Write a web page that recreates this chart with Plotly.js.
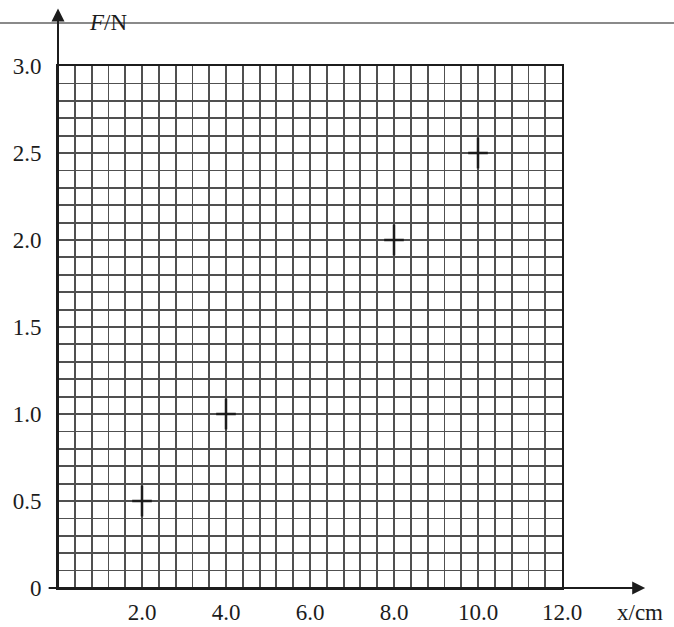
<!DOCTYPE html>
<html>
<head>
<meta charset="utf-8">
<script src="https://cdn.plot.ly/plotly-3.0.1.min.js"></script>
<style>html,body{margin:0;padding:0;background:#fff;}#chart{width:674px;height:627px;}</style>
</head>
<body>
<div id="chart"></div>
<script>
// measured data points (x in cm, F in N)
const xData = [2.0, 4.0, 8.0, 10.0];
const fData = [0.5, 1.0, 2.0, 2.5];

// tick labels
const xTickVals = [2, 4, 6, 8, 10, 12];
const xTickText = ["2.0", "4.0", "6.0", "8.0", "10.0", "12.0"];
const yTickVals = [0, 0.5, 1.0, 1.5, 2.0, 2.5, 3.0];
const yTickText = ["0", "0.5", "1.0", "1.5", "2.0", "2.5", "3.0"];

const gridColor = '#505050';
const ink = '#1c1c1c';
const serif = 'Liberation Serif, Times New Roman, serif';

const traces = [
  {x: xData, y: fData, mode: 'markers', type: 'scatter', hoverinfo: 'skip',
   marker: {symbol: 'line-ns-open', size: 22, color: ink, line: {color: ink, width: 2.5}}},
  {x: xData, y: fData, mode: 'markers', type: 'scatter', hoverinfo: 'skip',
   marker: {symbol: 'line-ew-open', size: 14, color: ink, line: {color: ink, width: 2.5}}}
];

const layout = {
  width: 674, height: 627,
  margin: {l: 58, r: 112, t: 66, b: 39},
  paper_bgcolor: '#fff', plot_bgcolor: '#fff',
  showlegend: false,
  font: {family: serif, color: ink, size: 23},
  xaxis: {
    range: [0, 12], tickmode: 'array', tickvals: xTickVals, ticktext: xTickText,
    showgrid: true, gridcolor: gridColor, gridwidth: 1.8,
    minor: {tickmode: 'linear', tick0: 0, dtick: 0.4, showgrid: true, gridcolor: gridColor, gridwidth: 1.8},
    showline: true, mirror: true, linecolor: ink, linewidth: 2,
    ticks: 'outside', ticklen: 2, tickcolor: 'rgba(0,0,0,0)',
    zeroline: false, fixedrange: true,
    tickfont: {family: serif, size: 23, color: ink}
  },
  yaxis: {
    range: [0, 3], tickmode: 'array', tickvals: yTickVals, ticktext: yTickText,
    showgrid: true, gridcolor: gridColor, gridwidth: 1.8,
    minor: {tickmode: 'linear', tick0: 0, dtick: 0.1, showgrid: true, gridcolor: gridColor, gridwidth: 1.8},
    showline: true, mirror: true, linecolor: ink, linewidth: 2,
    ticks: 'outside', ticklen: 10, tickcolor: 'rgba(0,0,0,0)',
    zeroline: false, fixedrange: true,
    tickfont: {family: serif, size: 23, color: ink}
  },
  shapes: [
    {type: 'line', xref: 'paper', yref: 'paper', x0: -0.12, x1: 1.23, y0: 1.0824, y1: 1.0824,
     line: {color: '#8a8a8a', width: 2}}
  ],
  annotations: [
    // y axis arrow
    {xref: 'x', yref: 'paper', x: 0, y: 1.11, axref: 'pixel', ayref: 'pixel', ax: 0, ay: 582,
     showarrow: true, arrowhead: 2, arrowsize: 1.3, arrowwidth: 2, arrowcolor: ink, text: ''},
    // x axis arrow
    {xref: 'paper', yref: 'y', x: 1.165, y: 0, axref: 'pixel', ayref: 'pixel', ax: -598, ay: 0,
     showarrow: true, arrowhead: 2, arrowsize: 1.3, arrowwidth: 2, arrowcolor: ink, text: ''},
    {xref: 'paper', yref: 'paper', x: 0.10, y: 1.084, xanchor: 'center', yanchor: 'middle',
     text: '<i>F</i>/N', showarrow: false, font: {family: serif, size: 23, color: ink}},
    {xref: 'paper', yref: 'paper', x: 1.155, y: -0.046, xanchor: 'center', yanchor: 'middle',
     text: 'x/cm', showarrow: false, font: {family: serif, size: 23, color: ink}}
  ]
};

Plotly.newPlot('chart', traces, layout, {staticPlot: true, displayModeBar: false});
</script>
</body>
</html>
